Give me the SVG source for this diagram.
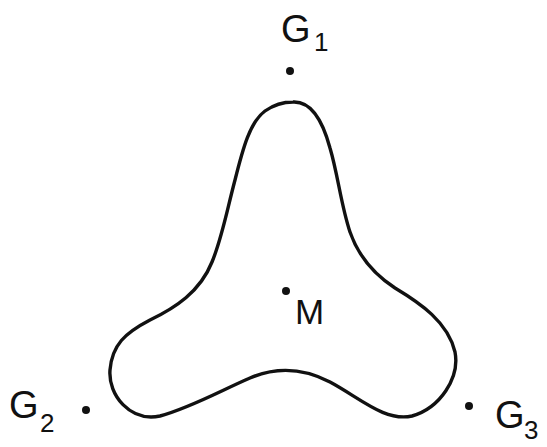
<svg xmlns="http://www.w3.org/2000/svg" width="547" height="447" viewBox="0 0 547 447">
  <style>
    .lbl { font-family: "Liberation Sans", Arial, sans-serif; fill: #111; }
    .big { font-size: 38px; }
    .sub { font-size: 26px; }
    .dot { fill: #111; }
    .curve { fill: none; stroke: #111; stroke-width: 3.4; stroke-linejoin: round; stroke-linecap: round; }
  </style>
  <rect width="547" height="447" fill="#fff"/>
  <g id="curve">
    <path class="curve" d="M 293,102 C 312,101 323,122 330,148 C 338,175 341,205 350,232 C 358,255 372,273 395,288 C 420,303 448,322 455,352 C 460,378 440,408 412,416 C 385,422 360,398 330,382 C 305,369 278,366 250,378 C 222,390 190,408 160,416 C 130,422 108,395 110,370 C 112,345 125,333 150,320 C 175,308 200,292 212,262 C 222,238 227,210 235,180 C 243,148 250,122 265,111 C 275,104 283,102 293,102 Z"/>
  </g>
  <g id="G1">
    <circle class="dot" cx="290" cy="71" r="4"/>
    <text class="lbl"><tspan class="big" x="281" y="42">G</tspan><tspan class="sub" x="314" y="51">1</tspan></text>
  </g>
  <g id="G2">
    <circle class="dot" cx="86" cy="410" r="4"/>
    <text class="lbl"><tspan class="big" x="9" y="418">G</tspan><tspan class="sub" x="40" y="432">2</tspan></text>
  </g>
  <g id="G3">
    <circle class="dot" cx="469" cy="406" r="4"/>
    <text class="lbl"><tspan class="big" x="495" y="428">G</tspan><tspan class="sub" x="524" y="439">3</tspan></text>
  </g>
  <g id="M">
    <circle class="dot" cx="286" cy="291" r="4"/>
    <text class="lbl big" x="295" y="324" style="font-size:35px">M</text>
  </g>
</svg>
